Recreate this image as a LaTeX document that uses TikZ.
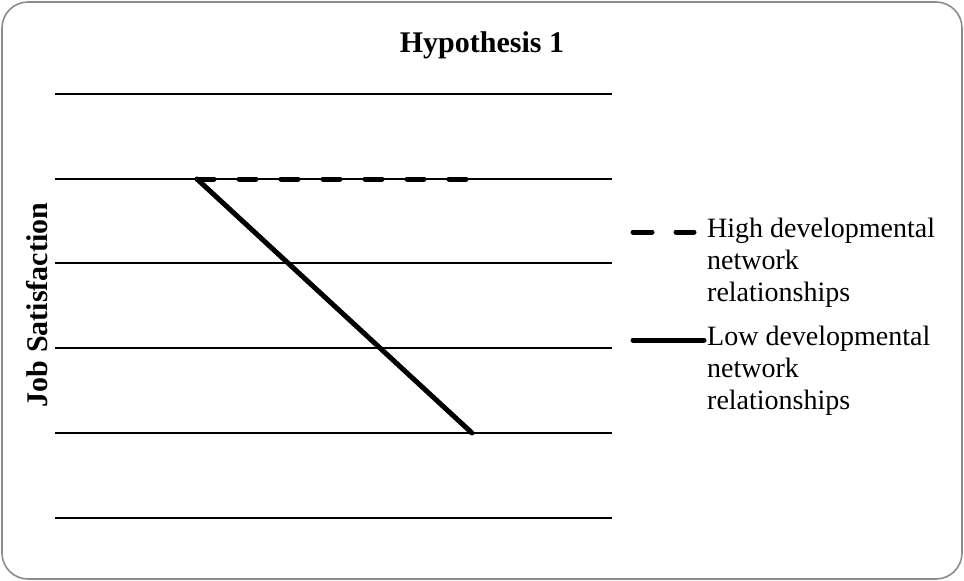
\documentclass[tikz,border=0pt]{standalone}
\usepackage{fontspec}
\setmainfont{Liberation Serif}
\begin{document}
\begin{tikzpicture}[x=1pt,y=-1pt,
  frame/.style={draw=black!45,line width=1.6pt,rounded corners=26pt},
  grid/.style={line width=1.4pt},
  highline/.style={line width=5pt,line cap=round,dash pattern=on 17pt off 25pt},
  lowline/.style={line width=5pt,line cap=round},
  legtext/.style={font=\fontsize{28}{32}\selectfont,align=left,anchor=north west,inner sep=0pt},
  ttl/.style={font=\fontsize{30}{34}\selectfont\bfseries}]
\useasboundingbox (0,0) rectangle (964,581);
\draw[frame] (2,2) rectangle (962,579);
\foreach \y/\n in {94/g1,179/g2,263/g3,348/g4,433/g5,518/g6}{
  \coordinate (\n l) at (55,\y); \coordinate (\n r) at (612,\y);
  \draw[grid] (\n l) -- (\n r);
}
\coordinate (hs) at (197,179);
\coordinate (he) at (468,179);
\coordinate (le) at (472,433);
\draw[lowline] (hs) -- (le);
\draw[highline] (hs) -- (he);
\node[ttl] (title) at (482,45) {Hypothesis 1};
\node[ttl,rotate=90] (ylab) at (37,305) {Job Satisfaction};
\coordinate (l1a) at (633,232); \coordinate (l1b) at (694,232);
\draw[highline,dash pattern=on 19pt off 24pt] (l1a) -- (l1b);
\node[legtext] (t1) at (707,218) {High developmental\\network\\relationships};
\coordinate (l2a) at (633,340); \coordinate (l2b) at (704,340);
\draw[lowline] (l2a) -- (l2b);
\node[legtext] (t2) at (707,326) {Low developmental\\network\\relationships};
\end{tikzpicture}
\end{document}
